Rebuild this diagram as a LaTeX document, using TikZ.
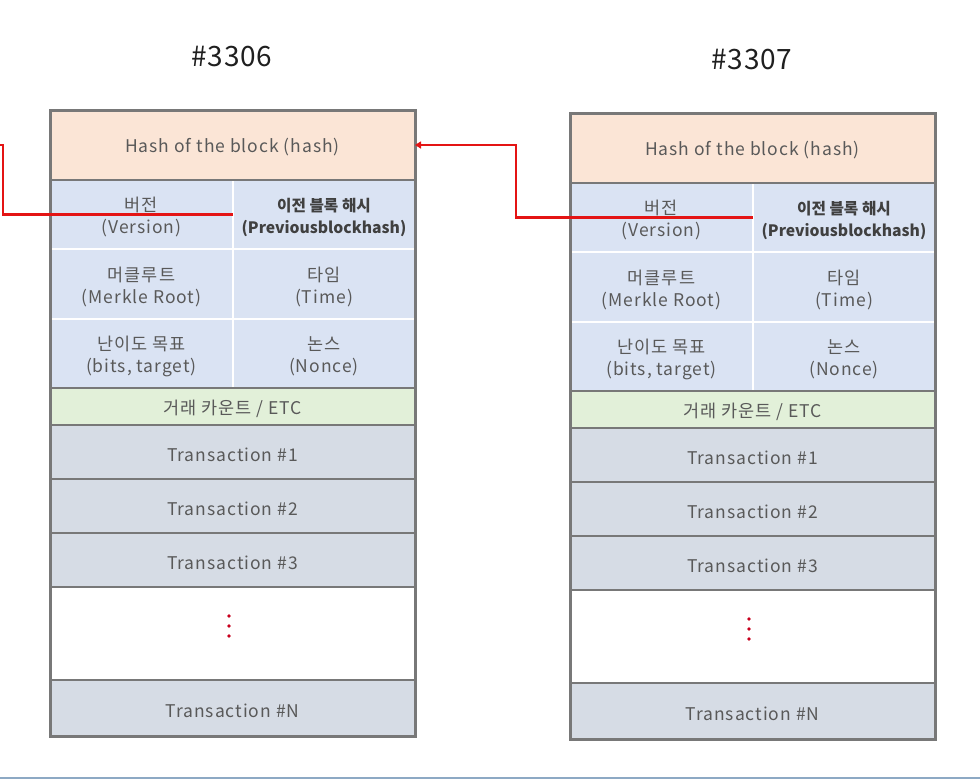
\documentclass[tikz,border=0pt]{standalone}
\usepackage{fontspec}
\setmainfont{Noto Sans CJK KR}
\newfontfamily\cellfont[LetterSpace=5.5]{Noto Sans CJK KR}
\newfontfamily\titlefont[LetterSpace=3]{Noto Sans CJK KR}
\usetikzlibrary{arrows.meta}
\definecolor{hashfill}{RGB}{251,229,214}
\definecolor{hdrfill}{RGB}{218,227,243}
\definecolor{etcfill}{RGB}{226,240,217}
\definecolor{txfill}{RGB}{214,220,229}
\definecolor{bordergray}{RGB}{120,120,120}
\definecolor{txtgray}{RGB}{89,89,89}
\definecolor{txtdark}{RGB}{64,64,64}
\definecolor{linkred}{RGB}{228,20,20}
\definecolor{dotred}{RGB}{200,0,30}
\definecolor{baseline}{RGB}{141,169,196}
\tikzset{
  cellbox/.style={inner sep=0pt, outer sep=0pt},
  celltext/.style={inner sep=0pt, outer sep=0pt, align=center, text=txtgray,
    font=\cellfont\fontsize{17.5}{22}\selectfont},
  boldtext/.style={celltext, text=txtdark, font=\bfseries\fontsize{15.7}{22}\selectfont},
  title/.style={inner sep=0pt, text=black!88, font=\titlefont\fontsize{28}{32}\selectfont},
  grayrule/.style={draw=bordergray, line width=2pt},
  whiterule/.style={draw=white, line width=2pt},
  outerframe/.style={draw=bordergray, line width=3pt},
  redlink/.style={draw=linkred, line width=2.2pt},
  reddot/.style={fill=dotred, draw=none}
}
\newcommand\celltxt[3][celltext]{\node[#1] (#2-t) at ([yshift=-2.5pt]#2.center) {#3};}
\begin{document}
\begin{tikzpicture}[x=1pt,y=-1pt]
\useasboundingbox (0,0) rectangle (980,780);
\foreach \b/\dx/\dy/\num in {a/0/0/3306,b/520/3/3307}{
\begin{scope}[shift={(\dx,\dy)}]
  \node[title] (title-\b) at (232,57) {\#\num};
  \node[cellbox, fill=hashfill, minimum width=365pt, minimum height=70pt] (hash-\b) at (232.5,145) {};
  \node[cellbox, fill=hdrfill, minimum width=183pt, minimum height=69pt] (ver-\b) at (141.5,214.5) {};
  \node[cellbox, fill=hdrfill, minimum width=182pt, minimum height=69pt] (prev-\b) at (324,214.5) {};
  \node[cellbox, fill=hdrfill, minimum width=183pt, minimum height=70pt] (merk-\b) at (141.5,284) {};
  \node[cellbox, fill=hdrfill, minimum width=182pt, minimum height=70pt] (time-\b) at (324,284) {};
  \node[cellbox, fill=hdrfill, minimum width=183pt, minimum height=69pt] (bits-\b) at (141.5,353.5) {};
  \node[cellbox, fill=hdrfill, minimum width=182pt, minimum height=69pt] (nonce-\b) at (324,353.5) {};
  \node[cellbox, fill=etcfill, minimum width=365pt, minimum height=37pt] (etc-\b) at (232.5,406.5) {};
  \node[cellbox, fill=txfill, minimum width=365pt, minimum height=54pt] (txa-\b) at (232.5,452) {};
  \node[cellbox, fill=txfill, minimum width=365pt, minimum height=54pt] (txb-\b) at (232.5,506) {};
  \node[cellbox, fill=txfill, minimum width=365pt, minimum height=54pt] (txc-\b) at (232.5,560) {};
  \node[cellbox, fill=white, minimum width=365pt, minimum height=93pt] (gap-\b) at (232.5,633.5) {};
  \node[cellbox, fill=txfill, minimum width=365pt, minimum height=56pt] (txn-\b) at (232.5,708) {};
  \celltxt{hash-\b}{Hash of the block (hash)}
  \celltxt{ver-\b}{버전\\(Version)}
  \celltxt[boldtext]{prev-\b}{이전 블록 해시\\(Previousblockhash)}
  \celltxt{merk-\b}{머클루트\\(Merkle Root)}
  \celltxt{time-\b}{타임\\(Time)}
  \celltxt{bits-\b}{난이도 목표\\(bits, target)}
  \celltxt{nonce-\b}{논스\\(Nonce)}
  \celltxt{etc-\b}{거래 카운트 / ETC}
  \celltxt{txa-\b}{Transaction \#1}
  \celltxt{txb-\b}{Transaction \#2}
  \celltxt{txc-\b}{Transaction \#3}
  \celltxt{txn-\b}{Transaction \#N}
  % separators
  \draw[whiterule] (233,180) -- (233,388);
  \draw[whiterule] (50,249) -- (415,249);
  \draw[whiterule] (50,319) -- (415,319);
  \foreach \yy in {180,388,425,479,533,587,680}{
    \draw[grayrule] (50,\yy) -- (415,\yy);
  }
  \draw[outerframe] (50,110) rectangle (415,736);
  % dots
  \foreach \yy in {616,626,636}{
    \fill[reddot] (229,\yy) circle (1.9pt);
  }
\end{scope}
}
\coordinate (offL) at (0,145);
\coordinate (turnL) at (3,145);
\coordinate (turnR) at (516,145);
\draw[redlink] (prev-a.west) -| (turnL) -- (offL);
\draw[redlink, -{Triangle[width=7pt,length=6pt]}] (prev-b.west) -| (turnR) -- (hash-a.east);
\draw[draw=baseline, line width=1.5pt] (0,778) -- (980,778);
\end{tikzpicture}
\end{document}
